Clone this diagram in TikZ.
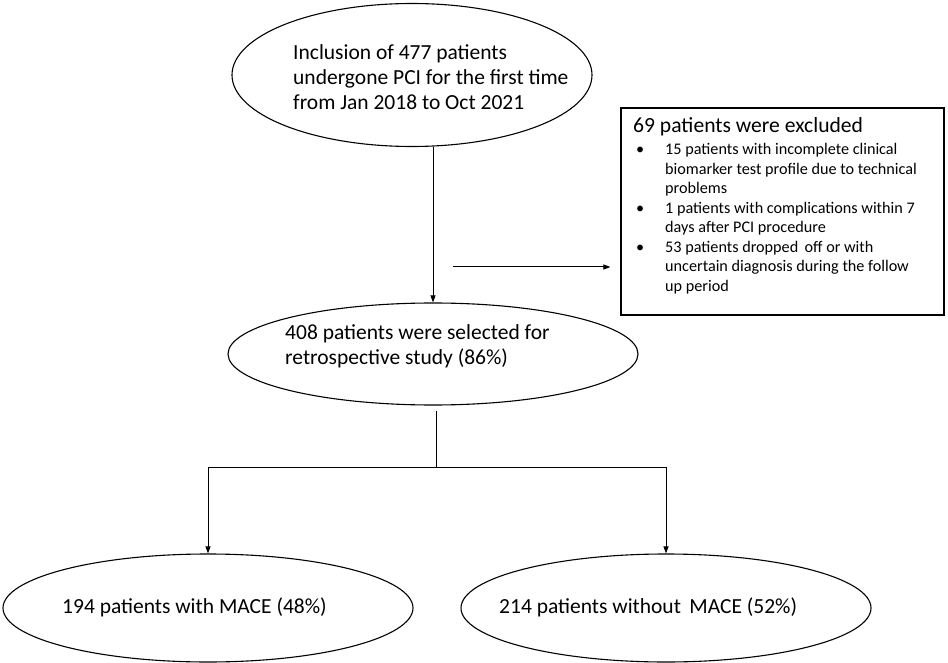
\documentclass[tikz,border=0pt]{standalone}
\usepackage{fontspec}
\setmainfont{Carlito}
\usetikzlibrary{shapes.geometric,arrows.meta}
\begin{document}
\begin{tikzpicture}[x=1pt,y=-1pt,
  oval/.style={ellipse,draw,line width=1.1pt,inner sep=0pt},
  txt/.style={inner sep=0pt,align=left,font=\fontsize{21.5}{25}\selectfont},
  btxt/.style={inner sep=0pt,anchor=base west,font=\fontsize{16.2}{19.5}\selectfont},
  arr/.style={line width=1pt,-{Triangle[length=7pt,width=5pt]}},
  ln/.style={line width=1pt}]
\useasboundingbox (0,0) rectangle (948,663);
% ellipses
\node[oval,minimum width=360pt,minimum height=143pt] (top) at (412,75) {};
\node[oval,minimum width=410pt,minimum height=102pt] (mid) at (433,354) {};
\node[oval,minimum width=410pt,minimum height=108pt] (left) at (208,608) {};
\node[oval,minimum width=410pt,minimum height=108pt] (right) at (666,608) {};
% box
\node[draw,line width=1.1pt,minimum width=323pt,minimum height=207pt,inner sep=0pt] (box) at (782.5,211.5) {};
% texts
\node[txt,anchor=west] (toptext) at (293,77) {Inclusion of 477 patients\\undergone PCI for the first time\\from Jan 2018 to Oct 2021};
\node[txt,anchor=west] (midtext) at (285,346) {408 patients were selected for\\retrospective study (86\%)};
\node[txt,anchor=west] (lefttext) at (62,607) {194 patients with MACE (48\%)};
\node[txt,anchor=west] (righttext) at (499,607) {214 patients without\, MACE (52\%)};
\node[inner sep=0pt,anchor=base west,font=\fontsize{21.6}{25}\selectfont] (head) at (633,133) {69 patients were excluded};
\node[btxt] (d1) at (636,155) {•};
\node[btxt] (d2) at (636,213.5) {•};
\node[btxt] (d3) at (636,252.5) {•};
\node[btxt] (l1) at (665,155) {15 patients with incomplete clinical};
\node[btxt] (l2) at (665,174.5) {biomarker test profile due to technical};
\node[btxt] (l3) at (665,194) {problems};
\node[btxt] (l4) at (665,213.5) {1 patients with complications within 7};
\node[btxt] (l5) at (665,233) {days after PCI procedure};
\node[btxt] (l6) at (665,252.5) {53 patients dropped\, off or with};
\node[btxt] (l7) at (665,272) {uncertain diagnosis during the follow};
\node[btxt] (l8) at (665,291.5) {up period};
% connectors
\draw[arr] (mid.north |- top.south) -- (mid.north);
\coordinate (hs) at (453,267);
\draw[arr] (hs) -- ([xshift=-10pt]hs -| box.west);
\coordinate (br) at (436,467);
\draw[ln] ([yshift=-5pt]br |- mid.south) -- (br);
\draw[ln] (left.north |- br) -- (right.north |- br);
\draw[arr] (left.north |- br) -- (left.north);
\draw[arr] (right.north |- br) -- (right.north);
\end{tikzpicture}
\end{document}
